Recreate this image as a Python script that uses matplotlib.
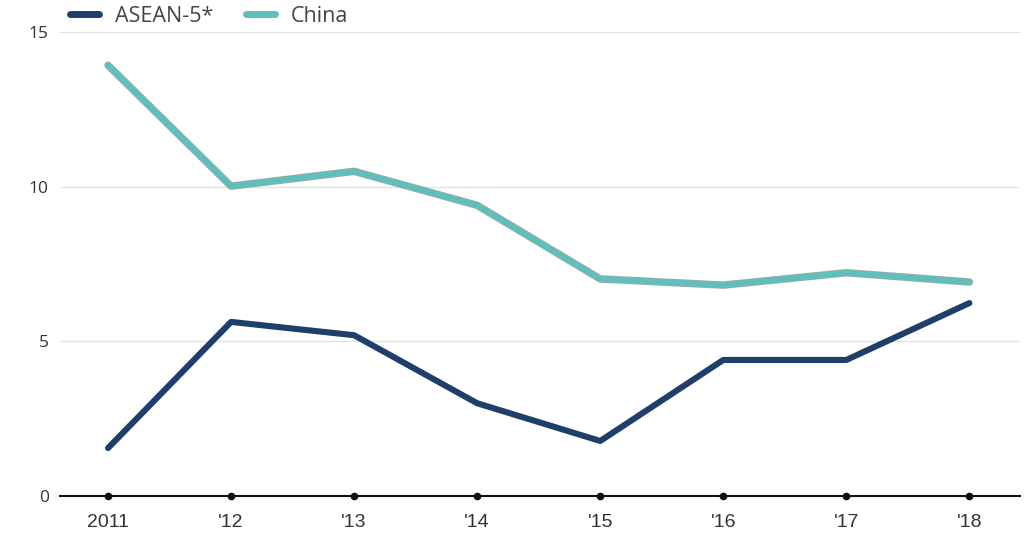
import matplotlib
matplotlib.use("Agg")
import matplotlib.pyplot as plt
import matplotlib.patheffects as pe
from matplotlib.lines import Line2D

years = ["2011", "'12", "'13", "'14", "'15", "'16", "'17", "'18"]
asean = [1.55, 5.63, 5.2, 3.0, 1.78, 4.4, 4.4, 6.24]
china = [13.93, 10.02, 10.5, 9.4, 7.02, 6.82, 7.22, 6.92]
yticks = [0, 5, 10, 15]

fig = plt.figure(figsize=(10.26, 5.36), dpi=100)
ax = fig.add_axes([0.0585, 0.0746, 0.9355, 0.8654])
x = list(range(len(years)))

ax.plot(x, china, color="#5fc0bb", lw=4.2, solid_capstyle="round", solid_joinstyle="round",
        clip_on=False, zorder=3,
        path_effects=[pe.Stroke(linewidth=5.4, foreground="#a0a8a8"), pe.Normal()])
ax.plot(x, asean, color="#1e3f6b", lw=4.4, solid_capstyle="round", solid_joinstyle="round",
        clip_on=False, zorder=3)

ax.set_xlim(-0.39, 7.41)
ax.set_ylim(0, 15)
ax.set_yticks(yticks)
ax.set_yticklabels([str(v) for v in yticks], family=["Open Sans", "DejaVu Sans"], fontsize=12.5, color="#333333")
ax.set_xticks(x)
ax.set_xticklabels(years, family=["Liberation Sans Narrow", "Liberation Sans", "DejaVu Sans"], fontsize=14, color="#333333")
ax.tick_params(axis="y", length=0, pad=8)
ax.tick_params(axis="x", length=0, pad=13)
ax.grid(axis="y", color="#e3e3e3", lw=1)
ax.set_axisbelow(True)
for s in ["top", "right", "left"]:
    ax.spines[s].set_visible(False)
ax.spines["bottom"].set_color("#111111")
ax.spines["bottom"].set_linewidth(1.5)
ax.plot(x, [0] * len(x), "o", color="#111111", ms=4.5, clip_on=False, zorder=4)

handles = [Line2D([], [], color="#1e3f6b", lw=5, solid_capstyle="round"),
           Line2D([], [], color="#5fc0bb", lw=5, solid_capstyle="round")]
leg = fig.legend(handles, ["ASEAN-5*", "China"], loc="upper left", bbox_to_anchor=(0.049, 1.025),
                 ncol=2, frameon=False, handlelength=1.35, columnspacing=1.5, handletextpad=0.75,
                 prop={"family": ["Open Sans", "DejaVu Sans"], "size": 15.5})
for t in leg.get_texts():
    t.set_color("#444444")

fig.savefig("out.png", dpi=100, facecolor="white")
